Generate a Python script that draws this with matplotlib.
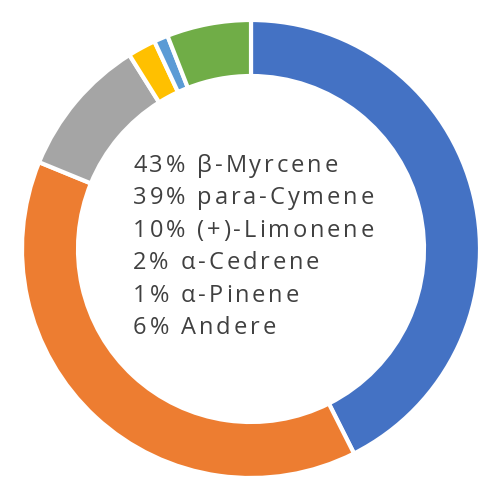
import matplotlib.pyplot as plt

labels = ["β-Myrcene", "para-Cymene", "(+)-Limonene", "α-Cedrene", "α-Pinene", "Andere"]
shares = [43, 39, 10, 2, 1, 6]
colors = ["#4472C4", "#ED7D31", "#A5A5A5", "#FFC000", "#5B9BD5", "#70AD47"]

fig = plt.figure(figsize=(5, 5), dpi=100)
ax = fig.add_axes([0, 0, 1, 1])

R = 229
cx, cy = 251, 249  # centre in pixels (from top-left)
ax.pie(shares, colors=colors, startangle=90, counterclock=False, radius=1,
       wedgeprops=dict(width=56 / R, edgecolor="white", linewidth=3))
ax.set_xlim(-cx / R, (500 - cx) / R)
ax.set_ylim(-(500 - cy) / R, cy / R)
ax.set_aspect("equal")
ax.axis("off")

font = dict(fontsize=17, color="#404040", family=["Open Sans", "DejaVu Sans"])
renderer = fig.canvas.get_renderer()


def text_w(s):
    t = ax.text(0, 0, s, **font)
    w = t.get_window_extent(renderer).width
    t.remove()
    return w


# letter-spaced legend text in the middle
track = 2.9
bar_w = text_w("|")
for i, (pct, name) in enumerate(zip(shares, labels)):
    line = f"{pct}% {name}"
    ypix = 166 + i * 32.4
    for j, ch in enumerate(line):
        xpix = 133 + (text_w(line[:j] + "|") - bar_w if j else 0) + j * track
        ax.text((xpix - cx) / R, (cy - ypix) / R, ch, ha="left", va="center", **font)

fig.savefig("out.png", dpi=100)
